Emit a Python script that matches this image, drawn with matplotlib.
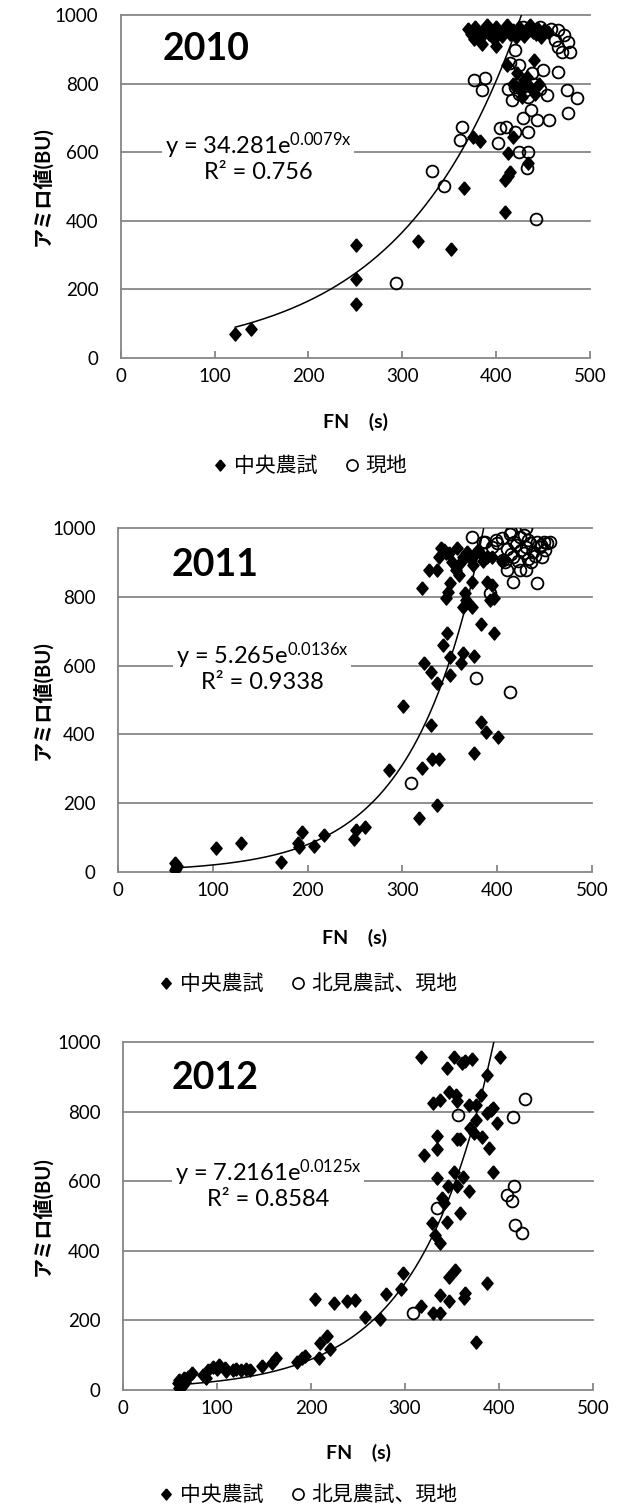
import numpy as np
import matplotlib
matplotlib.use('Agg')
import matplotlib.pyplot as plt
from matplotlib.lines import Line2D

plt.rcParams['font.family'] = ['Lato', 'Noto Sans CJK JP', 'DejaVu Sans']
plt.rcParams['mathtext.fontset'] = 'custom'
plt.rcParams['mathtext.rm'] = 'Lato'
plt.rcParams['mathtext.it'] = 'Lato'

# ---------------- data ----------------
years = ['2010', '2011', '2012']
legend_center = '中央農試'
legend_other = ['現地', '北見農試、現地', '北見農試、現地']
x_label = 'FN\u3000(s)'
y_label = 'アミロ値(BU)'
x_ticks = [0, 100, 200, 300, 400, 500]
y_ticks = [0, 200, 400, 600, 800, 1000]

# 2010
x10_d = [122, 139, 251, 251, 251, 317, 352, 366, 375, 383, 409, 409, 413, 415, 418, 413, 434, 412, 440, 422,
         370, 373, 376, 378, 381, 384, 387, 390, 392, 395, 398, 400, 403, 406, 409, 412, 415, 418, 421, 424,
         427, 430, 433, 436, 439, 442, 445, 448, 451, 455,
         418, 425, 430, 436, 441, 446, 428, 433, 385, 400]
y10_d = [70, 85, 329, 230, 157, 341, 318, 495, 645, 634, 427, 519, 530, 542, 644, 597, 568, 854, 869, 831,
         960, 945, 930, 965, 950, 935, 960, 970, 945, 955, 930, 965, 950, 940, 960, 970, 945, 955, 935, 965,
         950, 940, 960, 970, 950, 945, 960, 935, 955, 950,
         800, 780, 810, 790, 770, 800, 760, 820, 915, 910]
x10_c = [293, 332, 344, 362, 364, 376, 388, 385, 378, 402, 404, 410, 420, 434, 424, 434, 433, 443, 429, 444,
         456, 437, 477, 417, 434, 454, 476, 486, 415, 424, 420, 450, 466, 429, 436, 447, 458, 466, 472, 463,
         477, 466, 479, 470, 420, 427, 440, 447, 432, 424, 438, 413]
y10_c = [218, 545, 502, 635, 674, 810, 816, 781, 947, 627, 671, 673, 659, 659, 601, 601, 554, 405, 700, 694,
         694, 723, 714, 752, 761, 767, 781, 758, 860, 854, 898, 840, 834, 965, 956, 965, 958, 956, 942, 927,
         921, 907, 892, 892, 790, 810, 800, 785, 780, 770, 830, 785]

# 2011
x11_d = [60, 61, 62, 60, 103, 130, 172, 194, 190, 191, 207, 217, 249, 251, 261, 286, 301, 318, 321, 331,
         339, 337, 330, 337, 376, 383, 388, 401,
         323, 330, 350, 350, 362, 364, 376, 343, 347, 383, 397,
         341, 346, 339, 358, 364, 371, 376, 382, 389, 362, 374, 357, 360, 373, 389, 394, 350, 348, 346, 366,
         367, 373, 364, 392, 397, 328, 337, 321, 344, 349, 368, 380, 395, 385, 352, 405]
y11_d = [5, 12, 18, 25, 70, 85, 30, 117, 84, 74, 77, 108, 96, 122, 132, 297, 483, 158, 301, 329,
         328, 195, 427, 550, 345, 437, 406, 392,
         607, 582, 573, 626, 607, 636, 629, 660, 696, 721, 696,
         941, 926, 917, 941, 917, 912, 922, 926, 917, 902, 892, 878, 863, 844, 844, 834, 839, 815, 796, 810,
         791, 771, 771, 791, 796, 878, 878, 825, 936, 926, 930, 935, 915, 905, 900, 905]
x11_c = [309, 378, 414, 392, 373, 385, 399, 405, 415, 430, 428, 449, 456, 406, 410, 424, 430, 447, 417, 442,
         387, 414, 424, 442, 428, 438, 408, 417, 420, 430, 435, 445, 410, 425, 440, 450, 415, 432, 446, 400,
         395, 436, 418, 453, 433, 422]
y11_c = [260, 564, 522, 810, 975, 960, 965, 970, 989, 1000, 980, 960, 960, 907, 878, 878, 878, 917, 844, 839,
         960, 984, 975, 960, 926, 931, 902, 917, 950, 945, 955, 945, 940, 935, 920, 935, 925, 910, 950, 955,
         945, 900, 960, 955, 965, 905]

# 2012
x12_d = [60, 58, 60, 65, 69, 73, 90, 96, 102, 108, 117, 125, 131, 135, 88, 85, 148, 158, 163, 185,
         190, 194, 208, 210, 217, 220, 62, 64, 66, 100, 110, 120,
         204, 224, 238, 247, 257, 273, 280, 296, 298, 317, 330, 337, 337, 347, 347, 353, 364, 363, 387, 375,
         317, 352, 345, 361, 364, 371, 401, 387, 347, 354, 330, 337, 355, 381, 368, 375, 391, 394, 387, 398,
         375, 369, 373, 334, 355, 359, 382, 389, 334, 320, 352, 394, 334, 362, 346, 355, 368, 339, 342, 359,
         345, 329, 332, 337]
y12_d = [5, 19, 29, 34, 38, 48, 57, 67, 72, 62, 57, 57, 59, 57, 34, 43, 69, 77, 91, 81,
         91, 98, 91, 134, 155, 117, 10, 15, 22, 60, 55, 60,
         261, 251, 256, 259, 211, 203, 276, 290, 337, 241, 220, 220, 273, 256, 324, 345, 278, 264, 307, 139,
         956, 958, 924, 939, 946, 950, 956, 905, 855, 848, 824, 833, 830, 848, 819, 819, 805, 809, 795, 766,
         776, 752, 738, 730, 720, 720, 726, 694, 692, 675, 627, 627, 608, 613, 586, 586, 573, 551, 536, 508,
         484, 479, 445, 423]
x12_c = [428, 415, 356, 416, 408, 414, 417, 424, 334, 309]
y12_c = [835, 784, 790, 587, 560, 544, 474, 450, 522, 222]

fit_a = [34.281, 5.265, 7.2161]
fit_b = [0.0079, 0.0136, 0.0125]
fit_r2 = ['0.756', '0.9338', '0.8584']
fit_a_txt = ['34.281', '5.265', '7.2161']
fit_b_txt = ['0.0079', '0.0136', '0.0125']

datasets = [(x10_d, y10_d, x10_c, y10_c),
            (x11_d, y11_d, x11_c, y11_c),
            (x12_d, y12_d, x12_c, y12_c)]

# ---------------- layout (pixels) ----------------
W, H = 617, 1508
axes_px = [(120.7, 590, 15, 358), (118, 592, 528, 872), (123, 593, 1042, 1390)]
year_pos = [(163, 49), (172, 565), (172, 1078)]
eq_pos = [(258, 157), (262, 667), (268, 1184)]
xlabel_y = [422, 938, 1453]
legend_y = [466, 984, 1495]
legend_x = [310, 308, 308]

grid_c = '#868686'
diamond = [(0, 1), (0.85, 0), (0, -1), (-0.85, 0), (0, 1)]

fig = plt.figure(figsize=(W / 100, H / 100), dpi=100)


def fx(x):
    return x / W


def fy(y):
    return 1 - y / H


for i, (xd, yd, xc, yc) in enumerate(datasets):
    l, r, t, b = axes_px[i]
    ax = fig.add_axes([l / W, 1 - b / H, (r - l) / W, (b - t) / H])
    ax.set_xlim(0, 500)
    ax.set_ylim(0, 1000)
    for v in y_ticks[1:]:
        ax.axhline(v, color=grid_c, lw=1.3, zorder=0, clip_on=False)
    for s in ['top', 'right']:
        ax.spines[s].set_visible(False)
    for s in ['left', 'bottom']:
        ax.spines[s].set_color(grid_c)
        ax.spines[s].set_linewidth(1.3)
    ax.set_xticks(x_ticks)
    ax.set_yticks(y_ticks)
    ax.tick_params(axis='x', direction='in', length=5, width=1.3, color=grid_c,
                   labelsize=13.5, pad=7)
    ax.tick_params(axis='y', length=0, labelsize=13.5, pad=16)

    ax.plot(xc, yc, ls='none', marker='o', ms=8.5, mfc='none', mec='black', mew=1.3, zorder=3)
    ax.plot(xd, yd, ls='none', marker=diamond, ms=9.5, color='black', zorder=4)

    xmin = min(min(xd), min(xc))
    xs = np.linspace(xmin, 500, 400)
    ax.plot(xs, fit_a[i] * np.exp(fit_b[i] * xs), color='black', lw=1.1, zorder=5)

    ex, ey = eq_pos[i]
    ax.text(fx(ex), fy(ey), 'y = ' + fit_a_txt[i] + 'e$^{\\mathregular{' + fit_b_txt[i] + 'x}}$\n'
            + 'R² = ' + fit_r2[i], transform=fig.transFigure, ha='center', va='center',
            multialignment='center', fontsize=17, linespacing=1.05, zorder=6,
            bbox=dict(facecolor='white', edgecolor='none', pad=2))

    yx, yy = year_pos[i]
    fig.text(fx(yx), fy(yy), years[i], fontsize=27, fontweight='bold', ha='left', va='center')

    fig.text(fx((l + r) / 2), fy(xlabel_y[i]), x_label, fontsize=14, fontweight='bold',
             ha='center', va='center')
    fig.text(fx(42), fy((t + b) / 2), y_label, fontsize=14.5, fontweight='bold',
             rotation=90, ha='center', va='center')

    handles = [Line2D([], [], ls='none', marker=diamond, ms=8, color='black'),
               Line2D([], [], ls='none', marker='o', ms=8, mfc='none', mec='black', mew=1.2)]
    fig.legend(handles, [legend_center, legend_other[i]], loc='center',
               bbox_to_anchor=(fx(legend_x[i]), fy(legend_y[i])), ncol=2, frameon=False,
               fontsize=15, handlelength=0.7, handletextpad=0.3, columnspacing=1.3,
               borderpad=0, borderaxespad=0)

fig.savefig('out.png', dpi=100)
